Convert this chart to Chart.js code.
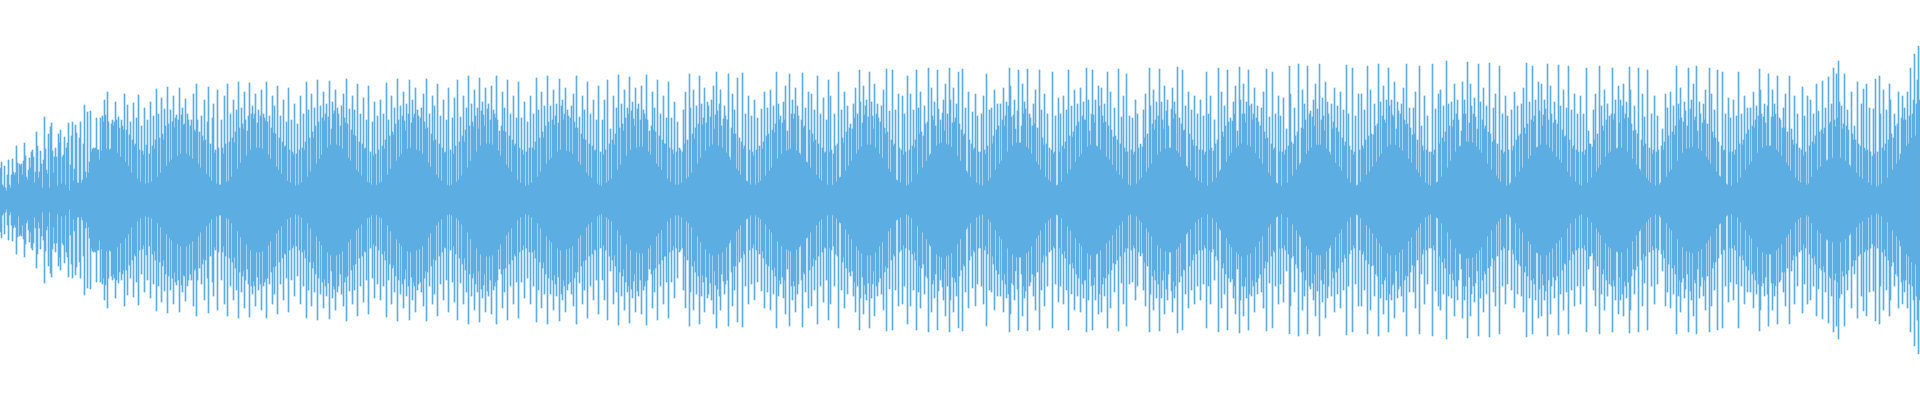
<!DOCTYPE html>
<html>
<head>
<meta charset="utf-8">
<title>Waveform</title>
<script src="https://cdn.jsdelivr.net/npm/chart.js@4/dist/chart.umd.min.js"></script>
<style>
    html, body { margin: 0; padding: 0; background: #fff; }
    #wave { display: block; }
</style>
</head>
<body>
<canvas id="wave" width="1920" height="400"></canvas>
<script>
// ── waveform ─────────────────────────────────────────────────────────────
// Mirrored amplitude bars, one sample per pixel column. Each value is the
// half-height of the bar (same units as the y axis).

const amplitude = [
    32,38,15,13,34,12,9,25,40,15, 12,25,41,28,25,27,54,37,16,36,
    34,36,25,39,57,44,23,20,30,42, 32,48,50,43,17,28,68,54,22,28,
    49,36,12,40,83,51,30,26,66,12, 73,77,49,27,43,52,43,14,66,57,
    70,16,43,45,63,15,52,57,77,9, 35,64,78,19,31,75,67,17,17,62,
    78,17,20,56,95,28,22,88,27,38, 89,48,51,52,51,52,82,50,50,40,
    // x 100
    82,49,84,78,100,85,51,108,78,50, 51,76,80,74,78,98,80,47,83,72,
    43,80,74,70,106,38,70,95,34,65, 78,27,60,97,54,56,82,21,105,50,
    18,74,49,45,92,16,55,80,17,46, 98,18,54,84,51,60,111,23,86,62,
    27,102,66,60,91,74,34,113,76,38, 90,40,78,104,72,82,85,44,80,112,
    46,85,92,75,76,101,46,86,80,44, 74,80,41,106,70,68,116,80,36,68,
    32,84,64,59,100,60,26,78,113,23, 56,19,82,96,47,50,16,110,52,15,
    // x 220
    15,80,52,46,104,56,18,116,19,58, 86,23,62,100,57,68,90,31,118,72,
    37,92,76,71,108,80,44,69,84,117, 50,86,94,81,86,106,52,77,90,52,
    84,110,51,86,82,79,118,78,45,84, 41,72,104,67,94,66,33,114,30,62,
    84,26,58,100,53,54,78,19,112,50, 17,80,48,45,96,14,46,76,15,50,
    // x 300
    104,17,52,86,50,58,118,23,90,62, 28,106,68,62,92,74,36,120,78,41,
    94,45,82,108,79,86,96,52,83,119, 55,71,98,86,89,110,55,92,86,54,
    74,94,51,106,82,77,121,76,42,91, 39,70,104,65,90,64,30,116,28,58,
    86,24,56,102,51,52,80,18,114,17, 48,15,78,44,98,46,15,84,50,17,
    // x 380
    100,18,54,86,51,60,117,25,80,64, 31,104,68,65,92,76,39,121,80,43,
    94,46,84,108,79,69,96,51,86,120, 52,77,100,82,86,112,50,90,84,49,
    82,92,46,106,78,71,121,72,37,86, 33,66,104,59,94,60,25,116,22,56,
    84,19,52,100,47,48,80,15,112,14,
    // x 450
    50,15,82,46,102,54,18,120,20,58, 83,24,64,104,58,70,92,32,124,74,
    39,96,78,73,110,84,48,92,71,122, 54,89,98,85,74,112,56,91,96,56,
    80,114,55,90,86,82,124,80,49,69, 44,74,108,69,92,68,35,120,32,64,
    86,28,60,104,54,56,82,20,118,52, 17,82,50,45,98,14,48,78,15,52,
    // x 530
    104,17,52,86,50,58,122,23,90,62, 28,108,68,62,94,74,36,124,78,40,
    94,42,80,110,75,84,96,48,77,121, 50,94,100,80,86,112,49,90,84,48,
    82,94,46,106,78,72,124,72,38,83, 35,66,104,61,90,60,27,118,24,56,
    86,22,54,100,49,50,80,16,114,15,
    // x 600
    48,14,80,45,100,50,17,120,19,56, 71,21,60,104,55,66,92,30,125,72,
    35,96,76,69,110,82,44,92,86,123, 50,89,98,81,74,112,52,91,96,53,
    80,114,53,90,86,81,125,80,48,69, 45,74,108,70,92,68,36,120,33,64,
    86,30,60,104,56,56,82,21,118,52, 18,82,50,46,98,15,48,78,15,52,
    // x 680
    50,17,48,90,56,108,21,60,23,126, 92,27,66,110,61,72,94,36,76,124,
    42,96,75,82,112,49,77,98,94,53, 83,100,55,114,71,85,128,89,54,96,
    110,74,52,81,94,84,47,80,126,43, 40,72,106,66,90,66,31,122,29,62,
    25,58,127,51,54,86,19,18,104,50, 15,84,48,44,100,15,50,82,17,54,
    // x 760
    19,91,51,58,108,24,64,92,66,29, 110,32,70,94,67,76,128,41,96,80,
    84,46,77,98,80,114,49,69,50,126, 51,86,100,81,86,112,49,94,84,47,
    45,80,127,72,74,92,38,37,108,70, 32,106,66,58,90,60,25,124,56,21,
    86,19,52,102,47,48,80,15,120,48,
    // x 830
    104,50,15,46,86,54,18,56,128,22, 23,90,62,57,108,29,68,94,34,72,
    76,39,71,96,82,112,46,86,50,130, 98,53,77,114,85,94,100,55,83,128,
    55,98,84,71,116,52,86,96,82,46, 78,94,42,110,72,66,131,68,31,89,
    28,60,130,54,56,90,20,19,106,52, 17,50,104,45,86,48,14,124,15,50,
    // x 910
    106,18,54,90,52,60,130,26,92,66, 108,68,32,64,94,76,39,78,132,44,
    46,112,84,80,98,74,54,130,91,56, 80,57,87,100,69,116,56,86,55,132,
    100,53,77,112,78,82,96,44,128,76, 39,70,131,64,66,92,29,27,108,60,
    23,56,88,50,52,106,17,84,48,15, 48,86,14,104,50,46,126,54,19,90,
    // x 990
    22,92,56,64,110,30,70,96,74,36, 96,39,80,112,74,84,98,48,94,132,
    114,83,54,85,100,71,57,89,130,57, 57,74,116,86,98,91,53,131,51,86,
    82,46,74,96,76,110,38,72,35,130, 30,90,62,55,106,23,56,86,20,52,
    18,50,128,46,48,84,14,15,102,48,
    // x 1060
    86,18,54,104,51,58,90,26,130,64, 30,94,63,68,110,38,74,96,78,43,
    112,46,84,98,80,80,132,53,100,69, 55,86,130,85,77,100,54,53,114,94,
    50,112,84,77,96,78,43,128,74,40, 108,70,35,63,92,64,29,60,131,25,
    56,83,21,104,52,48,126,48,15,84,
    // x 1130
    14,50,82,45,48,100,16,86,52,20, 56,22,53,90,62,106,28,66,32,132,
    94,36,76,110,70,80,98,45,84,131, 48,98,80,71,114,51,89,100,74,52,
    52,91,112,81,98,86,49,133,47,82, 43,76,130,69,70,94,34,32,108,66,
    29,90,60,54,104,22,54,86,19,50, 100,17,50,84,45,48,128,14,86,50,
    // x 1210
    104,52,18,49,80,56,22,60,132,28, 30,108,68,63,94,74,38,130,78,44,
    82,47,79,98,86,114,52,69,54,133, 100,56,86,116,86,77,98,55,130,94,
    53,96,80,86,112,47,82,94,78,41, 74,92,36,108,68,61,131,62,27,83,
    24,56,128,50,52,86,17,16,104,48,
    // x 1280
    84,14,48,102,45,50,71,17,54,134, 106,58,24,56,92,64,30,68,136,35,
    37,72,110,71,96,80,46,134,49,86, 89,52,83,100,74,116,55,91,55,136,
    55,80,102,84,69,118,51,98,86,48, 45,96,71,78,112,37,72,94,68,33,
    108,29,62,90,54,58,135,21,86,54, 17,50,132,45,48,84,14,15,106,50,
    // x 1360
    18,106,54,51,90,60,25,134,64,28, 110,66,33,65,96,74,38,76,136,43,
    98,46,84,114,80,77,100,53,132,94, 55,100,85,83,118,55,71,98,89,52,
    86,96,49,112,80,75,136,76,41,92, 72,37,65,92,66,108,30,60,27,134,
    23,74,54,49,104,17,50,84,15,48,
    // x 1430
    14,48,136,45,50,91,17,18,106,56, 110,23,62,94,58,68,139,32,96,74,
    39,98,73,80,116,48,86,100,80,53, 54,69,118,86,100,86,58,138,58,77,
    116,94,57,86,102,83,53,71,136,50, 98,47,80,112,71,74,94,36,68,137,
    66,30,58,92,60,106,24,56,21,134, 18,50,86,46,48,104,14,84,50,15,
    // x 1510
    17,90,49,54,108,23,60,94,64,28, 66,96,32,112,72,66,137,76,41,98,
    44,80,134,78,84,100,52,53,118,89, 55,116,74,85,100,91,55,136,80,52,
    114,86,48,77,98,80,43,76,135,40, 94,37,70,110,63,64,92,28,134,60,
    23,90,51,54,106,18,50,86,48,15,
    // x 1580
    104,14,48,86,45,50,132,17,69,56, 56,22,53,90,60,106,28,66,32,134,
    35,94,74,69,110,43,80,96,47,84, 48,86,132,80,86,100,51,52,114,77,
    100,52,94,116,81,86,98,48,82,133, 110,76,41,69,94,70,35,66,132,31,
    29,60,106,54,83,56,22,130,19,52,
    // x 1650
    17,86,46,50,104,14,48,84,50,15, 17,54,71,50,58,106,23,92,64,28,
    108,30,68,94,65,74,134,39,96,80, 112,82,47,78,98,89,51,74,132,52,
    91,100,53,116,80,83,134,69,51,98, 86,49,77,96,80,110,43,76,40,132,
    36,106,68,62,90,62,28,130,58,24, 23,54,128,49,50,86,16,15,102,48,
    // x 1730
    82,14,48,100,45,50,84,17,128,56, 22,86,55,60,104,30,66,92,70,35,
    92,38,74,108,72,80,94,47,84,131, 110,86,52,83,96,77,54,94,126,54,
    54,83,110,83,96,86,50,124,48,82, 80,44,72,92,72,106,37,68,34,124,
    29,71,60,55,104,22,56,86,19,52,
    // x 1800
    17,50,113,44,84,48,15,104,16,54, 100,23,58,86,56,64,116,30,89,68,
    33,70,119,66,72,92,39,40,123,76, 78,96,42,132,80,73,126,82,139,98,
    42,94,71,76,126,39,74,90,70,35, 33,108,66,60,74,60,27,118,56,23,
    54,96,21,111,52,49,116,50,17,92, 48,15,44,91,46,121,13,48,14,124,
    86,16,52,110,49,56,90,22,60,116, 100,66,30,62,86,74,36,76,108,40,
    46,82,104,80,92,80,54,108,56,84, 132,62,86,100,146,64,96,120,154,100
];

// one category per sample
const sampleLabels = amplitude.map((_, i) => i);

const yMin = -200;
const yMax = 200;

const WAVE_COLOR = '#5DADE2';

function buildWaveChart() {

    const ctx = document.getElementById('wave');

    // floating bars: each sample spans [-a, +a] around the centre line
    const mirrored = amplitude.map(a => [-a, a]);

    return new Chart(ctx, {
        type: 'bar',
        data: {
            labels: sampleLabels,
            datasets: [{
                data: mirrored,
                backgroundColor: WAVE_COLOR,
                borderWidth: 0,
                borderSkipped: false,
                barPercentage: 1,
                categoryPercentage: 1
            }]
        },
        options: {
            responsive: false,
            animation: false,
            devicePixelRatio: 1,
            layout: { padding: 0 },
            plugins: {
                legend: { display: false },
                tooltip: { enabled: false }
            },
            scales: {
                x: { display: false, grid: { display: false } },
                y: { display: false, min: yMin, max: yMax, grid: { display: false } }
            }
        }
    });
}

buildWaveChart();
</script>
</body>
</html>
